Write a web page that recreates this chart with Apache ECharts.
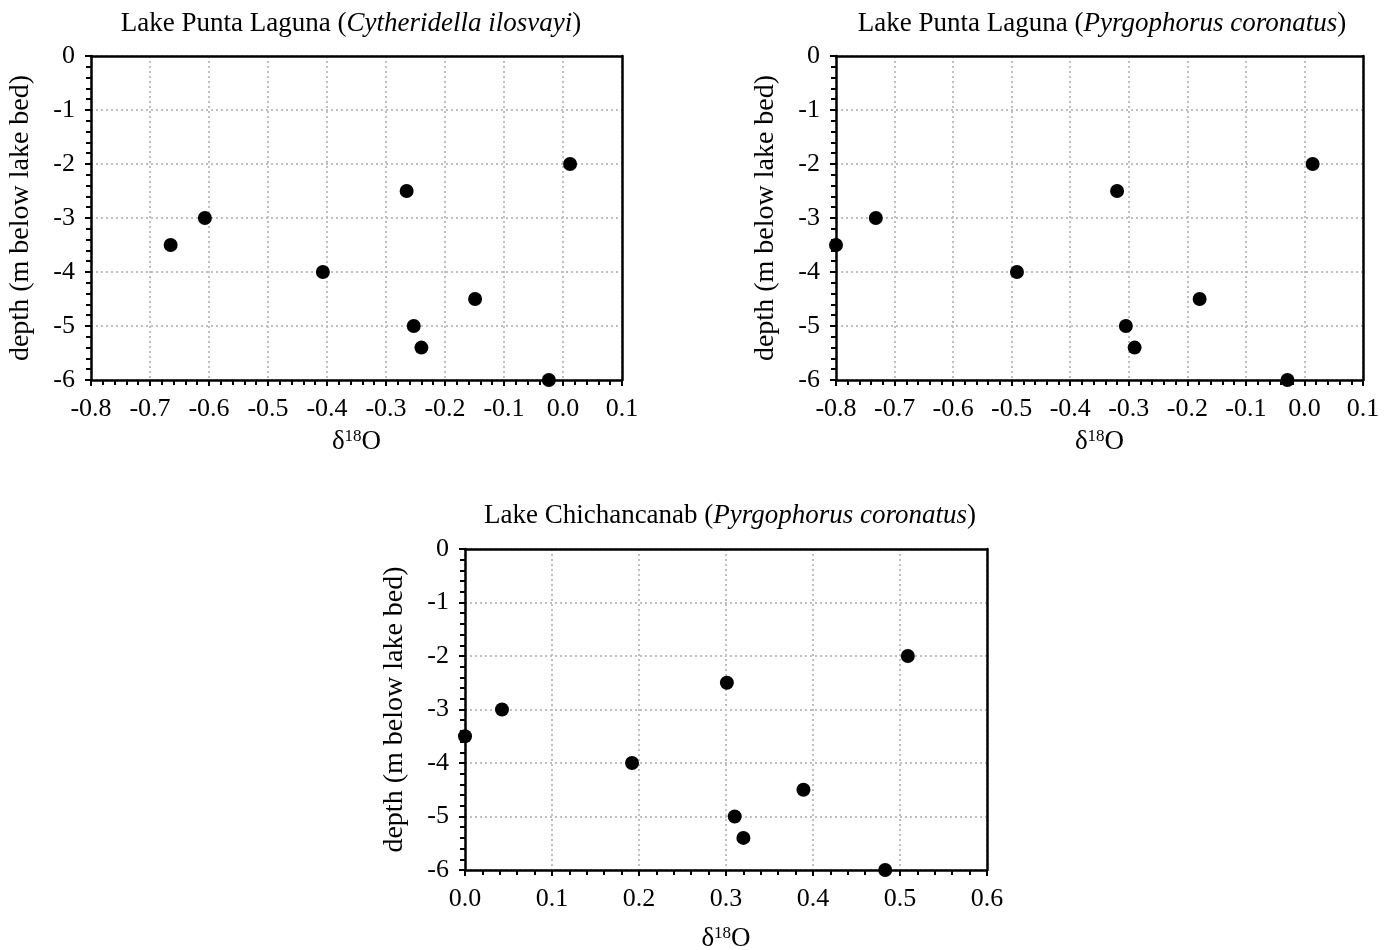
<!DOCTYPE html>
<html><head><meta charset="utf-8">
<script src="https://cdn.jsdelivr.net/npm/echarts@6/dist/echarts.min.js"></script>
<style>html,body{margin:0;padding:0;background:#fff}#c{width:1395px;height:950px}</style>
</head><body><div id="c"></div>
<script>
// Depth levels (m below lake bed)
var depths = [-3.5, -3.0, -4.0, -2.5, -5.0, -5.4, -4.5, -2.0, -6.0];
// δ18O values per panel
var puntaCytheridella = [-0.665, -0.607, -0.407, -0.265, -0.253, -0.24, -0.149, 0.012, -0.024];
var puntaPyrgophorus = [-0.8, -0.732, -0.491, -0.32, -0.305, -0.29, -0.179, 0.014, -0.029];
var chichPyrgophorus = [0.0, 0.0425, 0.192, 0.301, 0.31, 0.32, 0.389, 0.509, 0.483];
var titles = [
  ['Lake Punta Laguna (', 'Cytheridella ilosvayi', ')'],
  ['Lake Punta Laguna (', 'Pyrgophorus coronatus', ')'],
  ['Lake Chichancanab (', 'Pyrgophorus coronatus', ')']
];
var xRanges = [[-0.8, 0.1], [-0.8, 0.1], [0.0, 0.6]];
var yRange = [-6, 0];
var yName = 'depth (m below lake bed)';

var FONT = '"Liberation Serif", "Times New Roman", serif';
var grids = [
  {left: 91, top: 56, width: 531, height: 324, outerBoundsMode: 'none', containLabel: false},
  {left: 836, top: 56, width: 527, height: 324, outerBoundsMode: 'none', containLabel: false},
  {left: 465, top: 549, width: 522, height: 321, outerBoundsMode: 'none', containLabel: false}
];
var xNameGaps = [48, 48, 55];
var seriesData = [puntaCytheridella, puntaPyrgophorus, chichPyrgophorus];

function pairs(xs){ return xs.map(function(x,i){ return [x, depths[i]]; }); }

var xAxes = grids.map(function(g, i){
  return {
    type: 'value', gridIndex: i, min: xRanges[i][0], max: xRanges[i][1], interval: 0.1,
    name: '{d|δ}{s|18}{d|O}', nameLocation: 'middle', nameGap: xNameGaps[i],
    nameTextStyle: {rich: {d: {fontFamily: FONT, fontSize: 27, color: '#000'}, s: {fontFamily: FONT, fontSize: 17, color: '#000', verticalAlign: 'top', padding: [0,0,10,0]}}},
    axisLine: {show: true, onZero: false, lineStyle: {color: '#000', width: 2.5}},
    axisTick: {show: true, inside: false, length: 6, lineStyle: {color: '#000', width: 2}},
    minorTick: {show: true, splitNumber: 5, length: 5, lineStyle: {color: '#000', width: 2}},
    axisLabel: {fontFamily: FONT, fontSize: 26, color: '#000', margin: 16, formatter: function(v){ return (Math.abs(v) < 1e-9 ? 0 : v).toFixed(1); }},
    splitLine: {show: true, lineStyle: {color: '#bfbfbf', width: 2, type: [2, 3]}}
  };
});
var yAxes = grids.map(function(g, i){
  return {
    type: 'value', gridIndex: i, min: yRange[0], max: yRange[1], interval: 1,
    name: yName, nameLocation: 'middle', nameGap: 56, nameRotate: 90,
    nameTextStyle: {fontFamily: FONT, fontSize: 28, color: '#000'},
    axisLine: {show: true, onZero: false, lineStyle: {color: '#000', width: 2.5}},
    axisTick: {show: true, inside: false, length: 6, lineStyle: {color: '#000', width: 2}},
    minorTick: {show: true, splitNumber: 5, length: 5, lineStyle: {color: '#000', width: 2}},
    axisLabel: {fontFamily: FONT, fontSize: 26, color: '#000', margin: 16},
    splitLine: {show: true, lineStyle: {color: '#bfbfbf', width: 2, type: [2, 3]}}
  };
});
// frame axes (top and right borders)
grids.forEach(function(g, i){
  xAxes.push({type: 'value', gridIndex: i, position: 'top', min: xRanges[i][0], max: xRanges[i][1], interval: 0.1,
    axisLine: {show: true, onZero: false, lineStyle: {color: '#000', width: 2.5}},
    axisTick: {show: false}, axisLabel: {show: false}, splitLine: {show: false}});
  yAxes.push({type: 'value', gridIndex: i, position: 'right', min: yRange[0], max: yRange[1], interval: 1,
    axisLine: {show: true, onZero: false, lineStyle: {color: '#000', width: 2.5}},
    axisTick: {show: false}, axisLabel: {show: false}, splitLine: {show: false}});
});

var option = {
  animation: false,
  backgroundColor: '#fff',
  grid: grids,
  xAxis: xAxes,
  yAxis: yAxes,
  series: seriesData.map(function(xs, i){
    return {type: 'scatter', xAxisIndex: i, yAxisIndex: i, data: pairs(xs), symbolSize: 14,
      itemStyle: {color: '#000', opacity: 1}, clip: false, z: 5};
  }),
  graphic: titles.map(function(t, i){
    var cx = [351, 1102, 730][i], cy = [24, 24, 516][i];
    return {type: 'text', x: cx, y: cy, style: {
      text: '{n|' + t[0] + '}{i|' + t[1] + '}{n|' + t[2] + '}',
      align: 'center', verticalAlign: 'middle',
      rich: {n: {fontFamily: FONT, fontSize: 27, fill: '#000'}, i: {fontFamily: FONT, fontSize: 27, fontStyle: 'italic', fill: '#000'}}
    }};
  })
};
var chart = echarts.init(document.getElementById('c'), null, {renderer: 'canvas'});
chart.setOption(option);
</script></body></html>
